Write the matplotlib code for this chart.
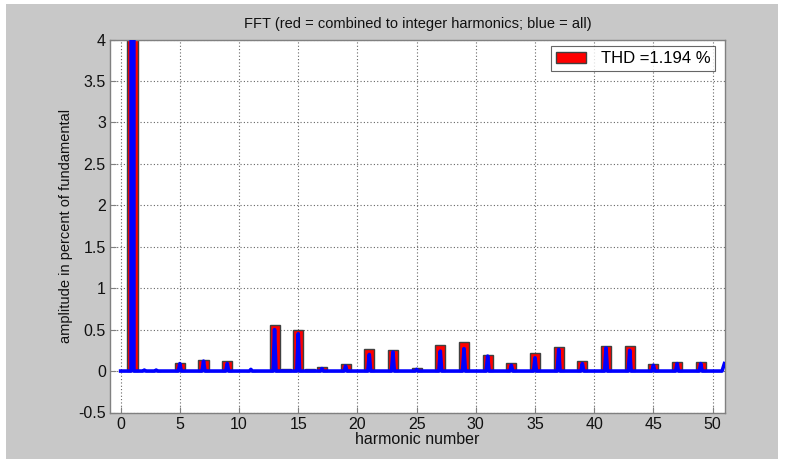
import matplotlib
matplotlib.use("Agg")
import matplotlib.pyplot as plt
from matplotlib.patches import Rectangle
import numpy as np

plt.rcParams['font.family'] = ['Liberation Sans', 'DejaVu Sans']

# Red bars: combined amplitude at integer harmonics (% of fundamental)
harmonics = [1, 3, 5, 7, 9, 11, 13, 14, 15, 16, 17, 19, 21, 23, 25, 27, 29, 31,
             33, 35, 37, 39, 41, 43, 45, 47, 49]
red_values = [100.0, 0.005, 0.10, 0.13, 0.12, 0.005, 0.56, 0.03, 0.49, 0.03, 0.045,
              0.08, 0.27, 0.26, 0.035, 0.315, 0.355, 0.19, 0.10, 0.22, 0.29, 0.12,
              0.30, 0.30, 0.09, 0.11, 0.11]

# Blue spectrum: peaks of the full FFT near each harmonic
blue_peak_x = [1, 2, 3, 5, 7, 9, 11, 13, 15, 17, 19, 21, 23, 25, 27, 29, 31,
               33, 35, 37, 39, 41, 43, 45, 47, 49]
blue_peak_y = [100.0, 0.012, 0.012, 0.09, 0.12, 0.09, 0.02, 0.50, 0.45, 0.03, 0.06,
               0.20, 0.23, 0.02, 0.24, 0.27, 0.18, 0.07, 0.16, 0.26, 0.09, 0.28,
               0.25, 0.07, 0.09, 0.09]
blue_start_x = [0.0]
blue_start_y = [0.0]
blue_end_x = [50.8, 51.0]
blue_end_y = [0.0, 0.09]

xticks = [0, 5, 10, 15, 20, 25, 30, 35, 40, 45, 50]
yticks = [-0.5, 0, 0.5, 1, 1.5, 2, 2.5, 3, 3.5, 4]
ytick_labels = ['-0.5', '0', '0.5', '1', '1.5', '2', '2.5', '3', '3.5', '4']

fig = plt.figure(figsize=(7.85, 4.59), dpi=100)
fig.patch.set_facecolor('white')
fig.patches.append(Rectangle((6 / 785, 0), 772 / 785, 455 / 459, transform=fig.transFigure,
                             facecolor='#c8c8c8', edgecolor='none', zorder=-10))

ax = fig.add_axes([110 / 785, 46.5 / 459, 615 / 785, 373 / 459])
ax.set_facecolor('white')

ax.bar(harmonics, red_values, width=0.85, color='#ff0000', edgecolor='#404040',
       linewidth=1.0, label='THD =1.194 %', zorder=2)

# build the blue line path from its peaks
bx = list(blue_start_x)
by = list(blue_start_y)
for h, v in zip(blue_peak_x, blue_peak_y):
    bx += [h - 0.12, h, h + 0.12]
    by += [0.0, v, 0.0]
bx += blue_end_x
by += blue_end_y
ax.plot(bx, by, color='#0000ff', linewidth=2.6, zorder=3, solid_joinstyle='round')

ax.set_xlim(-0.9, 51.05)
ax.set_ylim(-0.5, 4)
ax.set_xticks(xticks)
ax.set_yticks(yticks)
ax.set_yticklabels(ytick_labels)
ax.grid(True, color='#666666', linestyle=(0, (1, 2)), linewidth=0.8)
ax.set_axisbelow(True)
ax.tick_params(direction='in', length=4, color='#808080', labelsize=11.5,
               labelcolor='#111111', pad=3)
for s in ax.spines.values():
    s.set_color('#808080')
    s.set_linewidth(1.0)

ax.set_title('FFT (red = combined to integer harmonics; blue = all)', fontsize=10.5,
             color='#111111', pad=8)
ax.set_xlabel('harmonic number', fontsize=11.5, color='#111111', labelpad=0)
ax.set_ylabel('amplitude in percent of fundamental', fontsize=10.5, color='#111111',
              labelpad=4)

leg = ax.legend(loc='upper right', fontsize=12, frameon=True, fancybox=False,
                edgecolor='#404040', handlelength=1.8, handleheight=0.7,
                borderaxespad=0.4, borderpad=0.3, handletextpad=0.9,
                bbox_to_anchor=(0.995, 1.0))
leg.get_frame().set_linewidth(0.8)

fig.savefig('out.png', dpi=100)
